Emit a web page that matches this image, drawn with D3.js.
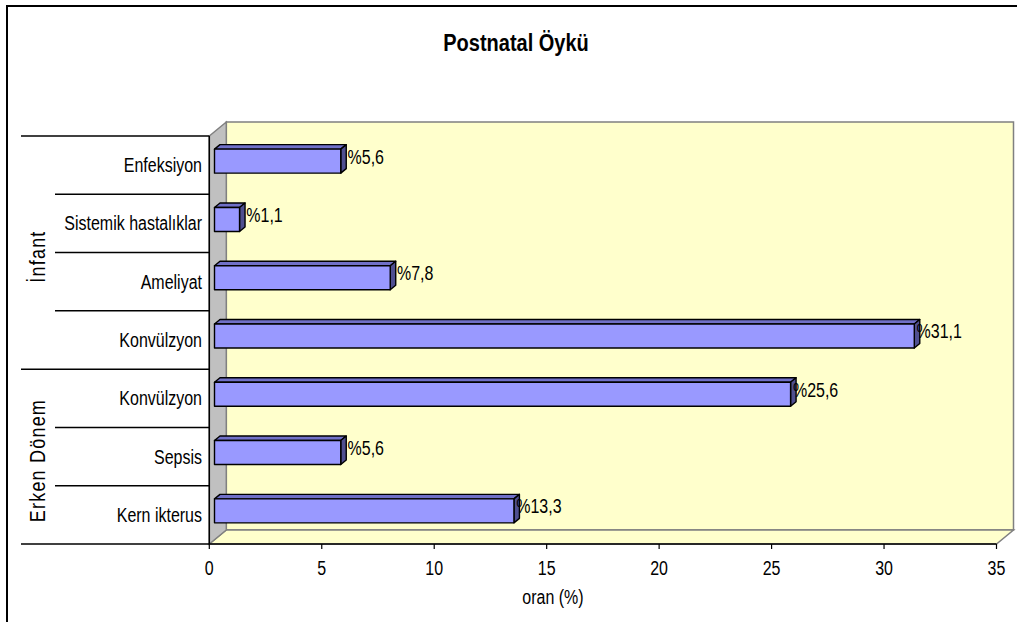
<!DOCTYPE html>
<html>
<head>
<meta charset="utf-8">
<script src="https://cdn.jsdelivr.net/npm/d3@7"></script>
<style>
  html, body { margin: 0; padding: 0; background: #ffffff; }
  svg { display: block; }
  text { font-family: "Liberation Sans", Arial, sans-serif; fill: #000; }
</style>
</head>
<body>
<svg id="chart" width="1017" height="622"></svg>
<script>
// Rows listed bottom to top, as the category axis stacks them
const categories = ["Kern ikterus", "Sepsis", "Konvülzyon", "Konvülzyon", "Ameliyat", "Sistemik hastalıklar", "Enfeksiyon"];
const values = [13.3, 5.6, 25.6, 31.1, 7.8, 1.1, 5.6];
const groupNames = ["Erken Dönem", "İnfant"];
const groupSizes = [3, 4];
const xTicks = [0, 5, 10, 15, 20, 25, 30, 35];
const titleText = "Postnatal Öykü";
const xTitle = "oran (%)";

const svg = d3.select("#chart");
const STRETCH = 1.22;

// plot frame
const xLeft = 209.3, xRight = 996.5, yFloor = 544, yTop = 136;
const DX = 17, DY = -14;          // wall depth
const FX = 5.2, FY = -4;          // bar front face offset into depth
const BX = 5.5, BY = -4.5;        // bar depth
const BAR_H = 24;

const x = d3.scaleLinear().domain([0, 35]).range([xLeft, xRight]);
const y = d3.scaleBand().domain(d3.range(categories.length)).range([yFloor, yTop]).padding(0);

function stretchedText(g, px, py, str, size, anchor, weight) {
  return g.append("text")
    .attr("transform", `translate(${px},${py}) scale(1,${STRETCH})`)
    .attr("text-anchor", anchor)
    .style("font-size", size + "px")
    .style("font-weight", weight || "normal")
    .text(str);
}

// outer border
svg.append("path").attr("d", "M7,622 V6 H1017")
  .attr("fill", "none").attr("stroke", "#000").attr("stroke-width", 2);

// title
stretchedText(svg, 516, 50.5, titleText, 20, "middle", "bold");

// walls: back, floor, side
const wall = svg.append("g");
wall.append("polygon")
  .attr("points", [[xLeft + DX, yTop + DY], [xRight + DX, yTop + DY], [xRight + DX, yFloor + DY], [xLeft + DX, yFloor + DY]].join(" "))
  .attr("fill", "#ffffcc").attr("stroke", "#808080").attr("stroke-width", 1.5);
wall.append("polygon")
  .attr("points", [[xLeft, yFloor], [xLeft + DX, yFloor + DY], [xRight + DX, yFloor + DY], [xRight, yFloor]].join(" "))
  .attr("fill", "#ffffcc").attr("stroke", "#808080").attr("stroke-width", 1.5);
wall.append("polygon")
  .attr("points", [[xLeft, yTop], [xLeft + DX, yTop + DY], [xLeft + DX, yFloor + DY], [xLeft, yFloor]].join(" "))
  .attr("fill", "#c0c0c0").attr("stroke", "#808080").attr("stroke-width", 1.5);

// value axis
const xAxis = svg.append("g");
xAxis.append("line").attr("x1", xLeft).attr("x2", xRight).attr("y1", yFloor).attr("y2", yFloor)
  .attr("stroke", "#000").attr("stroke-width", 1.5);
xTicks.forEach(t => {
  xAxis.append("line").attr("x1", x(t)).attr("x2", x(t)).attr("y1", yFloor).attr("y2", yFloor + 5)
    .attr("stroke", "#000").attr("stroke-width", 1.2);
  stretchedText(xAxis, x(t), 575, String(t), 16, "middle");
});
stretchedText(xAxis, 553, 604, xTitle, 16, "middle");

// category axis with two label levels
const catAxis = svg.append("g");
catAxis.append("line").attr("x1", xLeft).attr("x2", xLeft).attr("y1", yTop).attr("y2", yFloor)
  .attr("stroke", "#000").attr("stroke-width", 1.5);
const groupEdges = [0];
groupSizes.forEach(s => groupEdges.push(groupEdges[groupEdges.length - 1] + s));
// separator below each row, plus the top edge; group boundaries reach further left
for (let i = 0; i <= categories.length; i++) {
  const yy = i === 0 ? yFloor : y(i - 1);
  catAxis.append("line")
    .attr("x1", groupEdges.includes(i) ? 21 : 55).attr("x2", xLeft)
    .attr("y1", yy).attr("y2", yy)
    .attr("stroke", "#000").attr("stroke-width", 1.5);
}
categories.forEach((c, i) => {
  stretchedText(catAxis, 202, y(i) + y.bandwidth() / 2 + 7, c, 16, "end");
});
groupNames.forEach((name, gi) => {
  const top = y(groupEdges[gi + 1] - 1);
  const bottom = y(groupEdges[gi]) + y.bandwidth();
  const cy = (top + bottom) / 2 + 4;
  catAxis.append("text")
    .attr("transform", `translate(45,${cy}) rotate(-90) scale(1,1.2)`)
    .attr("text-anchor", "middle")
    .style("font-size", "18px")
    .style("letter-spacing", "1.2px")
    .text(name);
});

// 3D bars: top face, side face, front face
const bars = svg.append("g");
values.forEach((v, i) => {
  const cy = y(i) + y.bandwidth() / 2 + FY;
  const x0 = x(0) + FX, x1 = x(v) + FX + 0.3;
  const yt = cy - BAR_H / 2, yb = cy + BAR_H / 2;
  const g = bars.append("g").attr("stroke", "#000").attr("stroke-width", 1.4).attr("stroke-linejoin", "round");
  g.append("polygon")
    .attr("points", [[x0, yt], [x0 + BX, yt + BY], [x1 + BX, yt + BY], [x1, yt]].join(" "))
    .attr("fill", "#7070c8");
  g.append("polygon")
    .attr("points", [[x1, yt], [x1 + BX, yt + BY], [x1 + BX, yb + BY], [x1, yb]].join(" "))
    .attr("fill", "#4f4f90");
  g.append("rect")
    .attr("x", x0).attr("y", yt).attr("width", x1 - x0).attr("height", BAR_H)
    .attr("fill", "#9999ff");
  const label = "%" + String(v).replace(".", ",");
  stretchedText(bars, x1 + BX + 19.5, cy + 2.45, label, 16, "middle");
});
</script>
</body>
</html>
